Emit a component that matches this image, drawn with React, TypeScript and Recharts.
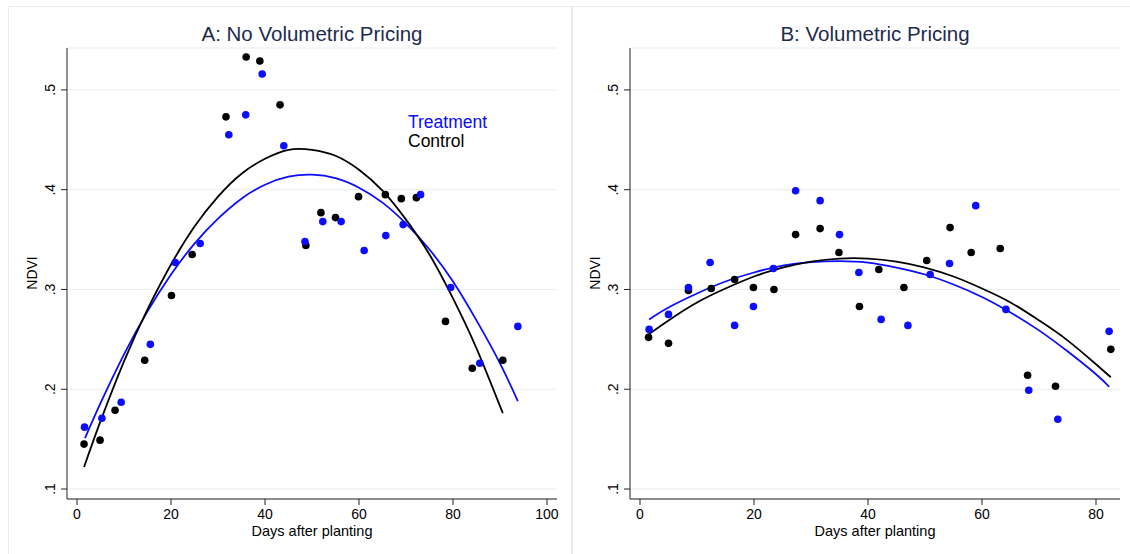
import React from 'react';
import { ComposedChart, XAxis, YAxis, CartesianGrid, Scatter, Line } from 'recharts';

// Panel A: no volumetric pricing
const aControlDays = [1.5, 4.9, 8.1, 14.4, 20.1, 24.5, 31.7, 36.0, 38.9, 43.2, 48.7, 51.9, 55.0, 59.9, 65.6, 69.0, 72.2, 78.4, 84.1, 90.6];
const aControlNdvi = [0.145, 0.149, 0.179, 0.229, 0.294, 0.335, 0.473, 0.533, 0.529, 0.485, 0.344, 0.377, 0.372, 0.393, 0.395, 0.391, 0.392, 0.268, 0.221, 0.229];
const aTreatDays = [1.6, 5.3, 9.4, 15.6, 20.9, 26.2, 32.3, 35.9, 39.4, 44.0, 48.5, 52.3, 56.2, 61.1, 65.7, 69.4, 73.1, 79.5, 85.7, 93.8];
const aTreatNdvi = [0.162, 0.171, 0.187, 0.245, 0.327, 0.346, 0.455, 0.475, 0.516, 0.444, 0.348, 0.368, 0.368, 0.339, 0.354, 0.365, 0.395, 0.302, 0.226, 0.263];

// fitted curves
const aControlFitDays = [1.5, 5, 10, 15, 20, 25, 30, 35, 40, 45, 50, 55, 60, 65, 70, 75, 80, 85, 90.6];
const aControlFitNdvi = [0.122, 0.168, 0.228, 0.280, 0.325, 0.363, 0.393, 0.416, 0.431, 0.440, 0.440, 0.434, 0.420, 0.399, 0.370, 0.335, 0.291, 0.241, 0.176];
const aTreatFitDays = [1.7, 5, 10, 15, 20, 25, 30, 35, 40, 45, 50, 55, 60, 65, 70, 75, 80, 85, 90, 93.8];
const aTreatFitNdvi = [0.151, 0.186, 0.235, 0.278, 0.315, 0.346, 0.371, 0.391, 0.405, 0.413, 0.415, 0.4115, 0.402, 0.387, 0.366, 0.340, 0.308, 0.269, 0.226, 0.188];

// Panel B: volumetric pricing
const bControlDays = [1.5, 5.0, 8.5, 12.5, 16.6, 19.9, 23.5, 27.3, 31.6, 34.9, 38.5, 41.9, 46.3, 50.3, 54.4, 58.1, 63.2, 68.0, 72.9, 82.6];
const bControlNdvi = [0.252, 0.246, 0.299, 0.301, 0.310, 0.302, 0.300, 0.355, 0.361, 0.337, 0.283, 0.320, 0.302, 0.329, 0.362, 0.337, 0.341, 0.214, 0.203, 0.240];
const bTreatDays = [1.6, 5.0, 8.5, 12.3, 16.6, 19.9, 23.4, 27.3, 31.6, 35.0, 38.4, 42.3, 47.0, 50.9, 54.3, 58.9, 64.2, 68.2, 73.3, 82.3];
const bTreatNdvi = [0.260, 0.275, 0.302, 0.327, 0.264, 0.283, 0.321, 0.399, 0.389, 0.355, 0.317, 0.270, 0.264, 0.315, 0.326, 0.384, 0.280, 0.199, 0.170, 0.258];

const bControlFitDays = [1.5, 5, 10, 15, 20, 25, 30, 35, 40, 45, 50, 55, 60, 65, 70, 75, 80, 82.6];
const bControlFitNdvi = [0.255, 0.269, 0.287, 0.301, 0.313, 0.322, 0.328, 0.331, 0.331, 0.328, 0.322, 0.313, 0.301, 0.287, 0.269, 0.249, 0.225, 0.212];
const bTreatFitDays = [1.6, 5, 10, 15, 20, 25, 30, 35, 40, 45, 50, 55, 60, 65, 70, 75, 80, 82.3];
const bTreatFitNdvi = [0.270, 0.282, 0.296, 0.308, 0.317, 0.324, 0.3275, 0.3285, 0.327, 0.322, 0.315, 0.305, 0.2925, 0.277, 0.259, 0.238, 0.215, 0.2025];

const yTicks = [0.1, 0.2, 0.3, 0.4, 0.5];
const aXTicks = [0, 20, 40, 60, 80, 100];
const bXTicks = [0, 20, 40, 60, 80];

const BLUE = '#0c0cff';
const BLACK = '#000000';
const FONT = '"Liberation Sans", Arial, Helvetica, sans-serif';

const pts = (xs: number[], ys: number[]) => xs.map((x, i) => ({ x, y: ys[i] }));

const dot = (color: string) => (p: any) => <circle cx={p.cx} cy={p.cy} r={3.8} fill={color} />;

const YTick = ({ x, y, payload }: any) => (
  <text
    x={x - 4}
    y={y}
    transform={`rotate(-90 ${x - 4} ${y})`}
    textAnchor="middle"
    fontSize={14}
    fill="#000"
    fontFamily={FONT}
  >
    {String(payload.value).replace(/^0/, '')}
  </text>
);

interface PanelProps {
  title: string;
  width: number;
  left: number;
  marginRight: number;
  xDomain: [number, number];
  xTicks: number[];
  control: { x: number; y: number }[];
  treat: { x: number; y: number }[];
  controlFit: { x: number; y: number }[];
  treatFit: { x: number; y: number }[];
  legend?: boolean;
}

const Panel = ({ title, width, left, marginRight, xDomain, xTicks, control, treat, controlFit, treatFit, legend }: PanelProps) => {
  const yAxisWidth = 40;
  const plotLeft = left;
  const plotRight = width - marginRight;
  const cx = (plotLeft + plotRight) / 2;
  return (
    <ComposedChart
      width={width}
      height={554}
      margin={{ top: 48, right: marginRight, bottom: 25, left: left - yAxisWidth }}
    >
      <CartesianGrid horizontal vertical={false} stroke="#e6eff1" strokeWidth={1} />
      <XAxis
        type="number"
        dataKey="x"
        domain={xDomain}
        ticks={xTicks}
        allowDataOverflow
        height={30}
        tickSize={6}
        tickMargin={4}
        stroke="#222"
        tick={{ fill: '#000', fontSize: 14, fontFamily: FONT }}
      />
      <YAxis
        type="number"
        dataKey="y"
        domain={[0.09, 0.542]}
        ticks={yTicks}
        allowDataOverflow
        width={yAxisWidth}
        tickSize={6}
        tickMargin={2}
        stroke="#222"
        tick={<YTick />}
      />
      <Scatter data={control} fill={BLACK} shape={dot(BLACK)} isAnimationActive={false} />
      <Scatter data={treat} fill={BLUE} shape={dot(BLUE)} isAnimationActive={false} />
      <Line data={treatFit} dataKey="y" type="natural" stroke={BLUE} strokeWidth={1.8} dot={false} activeDot={false} isAnimationActive={false} />
      <Line data={controlFit} dataKey="y" type="natural" stroke={BLACK} strokeWidth={1.8} dot={false} activeDot={false} isAnimationActive={false} />
      <text x={cx} y={41} textAnchor="middle" fontSize={20.5} fill="#1e2b4d" fontFamily={FONT}>
        {title}
      </text>
      <text x={cx} y={536} textAnchor="middle" fontSize={14.5} fill="#000" fontFamily={FONT}>
        Days after planting
      </text>
      <text
        x={plotLeft - 30}
        y={273}
        transform={`rotate(-90 ${plotLeft - 30} 273)`}
        textAnchor="middle"
        fontSize={14}
        fill="#000"
        fontFamily={FONT}
      >
        NDVI
      </text>
      {legend && (
        <>
          <text x={408} y={128} fontSize={17.5} fill={BLUE} fontFamily={FONT}>Treatment</text>
          <text x={408} y={147} fontSize={17.5} fill="#000" fontFamily={FONT}>Control</text>
        </>
      )}
    </ComposedChart>
  );
};

export default function App() {
  return (
    <div style={{ position: 'absolute', left: 0, top: 0, width: 1130, height: 554, background: '#fff', overflow: 'hidden' }}>
      <div style={{ position: 'absolute', left: 8, top: 6, width: 563, height: 600, border: '1px solid #e4edef' }} />
      <div style={{ position: 'absolute', left: 571, top: 6, width: 600, height: 600, border: '1px solid #e4edef' }} />
      <div style={{ position: 'absolute', left: 0, top: 0 }}>
        <Panel
          title="A: No Volumetric Pricing"
          width={572}
          left={67}
          marginRight={15}
          xDomain={[-2.13, 102.13]}
          xTicks={aXTicks}
          control={pts(aControlDays, aControlNdvi)}
          treat={pts(aTreatDays, aTreatNdvi)}
          controlFit={pts(aControlFitDays, aControlFitNdvi)}
          treatFit={pts(aTreatFitDays, aTreatFitNdvi)}
          legend
        />
      </div>
      <div style={{ position: 'absolute', left: 572, top: 0 }}>
        <Panel
          title="B: Volumetric Pricing"
          width={558}
          left={58}
          marginRight={10}
          xDomain={[-1.754, 84.21]}
          xTicks={bXTicks}
          control={pts(bControlDays, bControlNdvi)}
          treat={pts(bTreatDays, bTreatNdvi)}
          controlFit={pts(bControlFitDays, bControlFitNdvi)}
          treatFit={pts(bTreatFitDays, bTreatFitNdvi)}
        />
      </div>
    </div>
  );
}
